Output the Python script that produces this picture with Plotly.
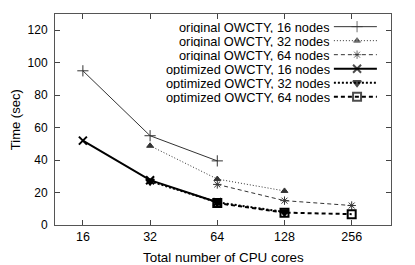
import math
import plotly.graph_objects as go

cores = [16, 32, 64, 128, 256]
tick_labels = ["16", "32", "64", "128", "256"]
y_ticks = [0, 20, 40, 60, 80, 100, 120]

orig16_x = [16, 32, 64]
orig16_y = [95, 55, 39.5]
orig32_x = [32, 64, 128]
orig32_y = [48.8, 28.3, 21]
orig64_x = [64, 128, 256]
orig64_y = [25, 15, 12]
opt16_x = [16, 32, 64]
opt16_y = [52, 27.6, 14]
opt32_x = [32, 64, 128]
opt32_y = [27, 14, 8]
opt64_x = [64, 128, 256]
opt64_y = [13.5, 7.6, 6.7]

series = [
    ("original OWCTY, 16 nodes", orig16_x, orig16_y, "solid", 1, "#333", "cross-thin-open", 8, 1),
    ("original OWCTY, 32 nodes", orig32_x, orig32_y, "1px,2px", 1, "#333", "triangle-up", 6, 1),
    ("original OWCTY, 64 nodes", orig64_x, orig64_y, "4px,3px", 1, "#333", "asterisk-open", 7, 1),
    ("optimized OWCTY, 16 nodes", opt16_x, opt16_y, "solid", 2, "black", "x-thin-open", 8, 2),
    ("optimized OWCTY, 32 nodes", opt32_x, opt32_y, "2px,2px", 2, "black", "triangle-down", 7, 2),
    ("optimized OWCTY, 64 nodes", opt64_x, opt64_y, "4px,3px", 2, "black", "square-open", 8, 2),
]

FONT = "Liberation Sans, Arial, sans-serif"
fig = go.Figure()
for name, xs, ys, dash, w, col, sym, ms, mw in series:
    fig.add_trace(go.Scatter(
        x=[math.log2(v) for v in xs], y=ys, mode="lines+markers", name=name,
        line=dict(color=col, width=w, dash=dash),
        marker=dict(symbol=sym, size=ms, color=col, line=dict(color=col, width=mw)),
        showlegend=False,
    ))

# gnuplot-style key: text right-aligned, line sample to its right
leg_y0 = 0.94
leg_dy = 0.0664
for i, (name, xs, ys, dash, w, col, sym, ms, mw) in enumerate(series):
    yy = leg_y0 - i * leg_dy
    fig.add_annotation(x=0.822, y=yy, xref="paper", yref="paper", text=name,
                       showarrow=False, xanchor="right", yanchor="middle", height=12,
                       borderpad=0,
                       font=dict(family=FONT, size=12.8, color="black"))
    fig.add_trace(go.Scatter(
        x=[0.83, 0.899, 0.958], y=[yy, yy, yy], xaxis="x2", yaxis="y2",
        mode="lines+markers", showlegend=False, hoverinfo="skip",
        line=dict(color=col, width=w, dash=dash),
        marker=dict(symbol=sym, size=[0, ms, 0], color=col, line=dict(color=col, width=mw)),
    ))

fig.add_annotation(x=-0.117, y=0.5, xref="paper", yref="paper", text="Time (sec)",
                   textangle=-90, showarrow=False, xanchor="center", yanchor="middle",
                   font=dict(family=FONT, size=13, color="black"))
fig.add_annotation(x=0.5, y=-0.156, xref="paper", yref="paper", text="Total number of CPU cores",
                   showarrow=False, xanchor="center", yanchor="middle",
                   font=dict(family=FONT, size=13.4, color="black"))

# the page body adds an 8px offset, so the figure is sized/margined to compensate
fig.update_layout(
    width=407, height=257,
    margin=dict(l=47, r=24, t=6, b=40, autoexpand=False),
    paper_bgcolor="white", plot_bgcolor="white",
    font=dict(family=FONT, size=12, color="black"),
    xaxis=dict(
        range=[math.log2(12), math.log2(384)],
        tickvals=[math.log2(v) for v in cores], ticktext=tick_labels,
        ticks="inside", ticklen=5, tickcolor="#444",
        showline=True, linecolor="#555", linewidth=1, mirror="ticks",
        showgrid=False, zeroline=False, automargin=False,
        tickfont=dict(size=12.5),
    ),
    yaxis=dict(
        range=[0, 130], tickvals=y_ticks,
        ticks="inside", ticklen=5, tickcolor="#444",
        showline=True, linecolor="#555", linewidth=1, mirror="ticks",
        showgrid=False, zeroline=False, automargin=False,
        ticklabelstandoff=4,
        tickfont=dict(size=12),
    ),
    xaxis2=dict(domain=[0, 1], range=[0, 1], overlaying="x", visible=False, anchor="y2"),
    yaxis2=dict(domain=[0, 1], range=[0, 1], overlaying="y", visible=False, anchor="x2"),
)

fig.write_html("out.html")
